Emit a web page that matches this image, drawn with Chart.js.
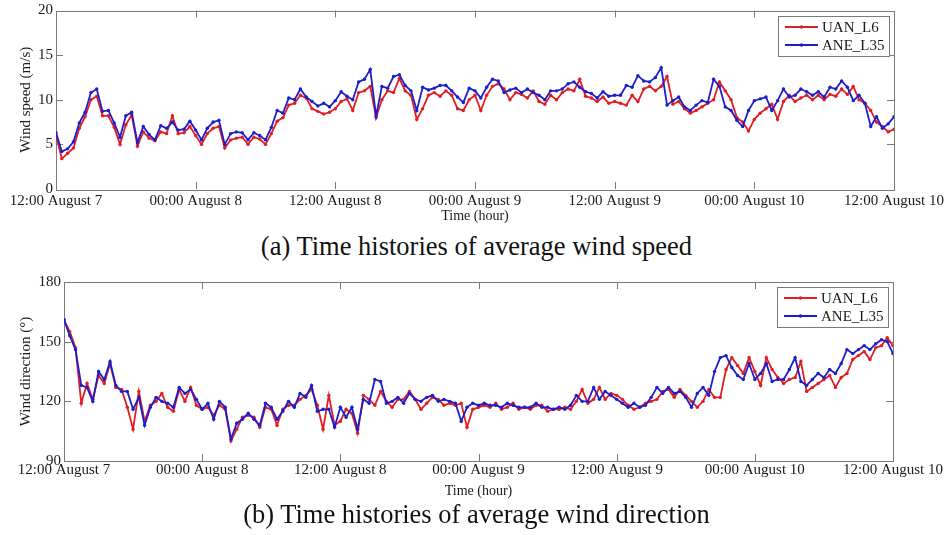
<!DOCTYPE html>
<html>
<head>
<meta charset="utf-8">
<script src="https://cdn.jsdelivr.net/npm/chart.js@4.4.0/dist/chart.umd.min.js"></script>
<style>
  body { margin: 0; background: #fff; }
  #page { position: relative; width: 949px; height: 535px; overflow: hidden; background: #fff; }
  .panel { position: absolute; left: 0; }
  .caption { position: absolute; left: 2px; width: 949px; text-align: center;
             font-family: "Liberation Serif", "Times New Roman", serif; font-size: 26.5px;
             line-height: 30px; color: #111; }
</style>
</head>
<body>
<div id="page">
  <div class="panel" style="top:0"><canvas id="speedChart" width="949" height="230"></canvas></div>
  <div class="caption" style="top:231px">(a) Time histories of average wind speed</div>
  <div class="panel" style="top:265px"><canvas id="dirChart" width="949" height="240"></canvas></div>
  <div class="caption" style="top:499px">(b) Time histories of average wind direction</div>
</div>
<script>
// tick labels every 12 hours, samples every half hour from 12:00 August 7
var timeTicks = ['12:00 August 7', '00:00 August 8', '12:00 August 8', '00:00 August 9',
                 '12:00 August 9', '00:00 August 10', '12:00 August 10'];
var stepHours = 0.5;
var seriesNames = ['UAN_L6', 'ANE_L35'];

// wind speed (m/s)
var speedUAN = [
  6.0, 3.4, 4.0, 4.6, 6.8, 8.1, 10.0, 10.4, 8.2, 8.2, 6.9, 5.0, 7.2, 8.3, 4.8, 6.4, 5.7, 5.4, 6.4, 6.2, 8.2, 6.2, 6.3, 7.0,
  6.0, 5.0, 6.2, 6.8, 7.0, 4.6, 5.5, 5.7, 5.8, 5.0, 5.8, 5.6, 5.0, 6.2, 7.6, 8.0, 9.4, 9.6, 10.5, 10.2, 9.0, 8.7, 8.4, 8.6,
  9.0, 9.8, 10.1, 8.8, 10.8, 11.0, 11.5, 8.0, 10.0, 11.0, 10.8, 12.4, 11.0, 10.5, 7.8, 9.0, 10.5, 10.8, 10.4, 11.0, 10.5, 9.0, 8.8, 10.0,
  10.5, 8.8, 10.5, 11.5, 11.8, 11.2, 10.0, 10.8, 10.6, 10.2, 11.0, 9.8, 9.5, 10.5, 10.0, 10.8, 11.2, 11.0, 12.3, 10.4, 10.2, 9.8, 10.3, 9.6,
  9.8, 9.6, 9.4, 10.5, 9.8, 11.2, 11.5, 11.0, 11.5, 12.6, 9.5, 9.8, 9.0, 8.5, 8.8, 9.2, 9.6, 10.0, 12.0, 11.0, 10.0, 8.0, 7.5, 6.5,
  7.8, 8.5, 9.0, 9.5, 7.8, 9.8, 10.5, 9.8, 10.2, 10.5, 10.0, 10.5, 10.0, 10.6, 10.4, 11.2, 10.6, 11.5, 10.0, 9.6, 8.8, 7.5, 7.0, 6.4, 6.7
];
var speedANE = [
  6.3, 4.2, 4.5, 5.3, 7.4, 8.6, 10.8, 11.2, 8.7, 8.8, 7.4, 5.8, 8.2, 8.6, 5.2, 7.0, 6.1, 5.5, 7.1, 6.8, 7.5, 6.6, 6.7, 7.6,
  6.6, 5.5, 6.8, 7.5, 7.7, 5.0, 6.2, 6.4, 6.3, 5.5, 6.3, 6.0, 5.5, 6.9, 8.8, 8.5, 10.2, 10.0, 11.2, 10.3, 9.8, 9.3, 9.6, 9.2,
  9.9, 10.9, 10.4, 10.0, 12.0, 12.3, 13.4, 8.2, 11.5, 11.3, 12.6, 12.8, 11.6, 11.0, 8.8, 11.4, 11.1, 11.3, 11.6, 11.6, 11.0, 10.3, 9.7, 11.3,
  11.0, 10.2, 11.4, 12.3, 12.1, 10.8, 11.1, 11.3, 10.8, 11.2, 10.8, 10.5, 10.0, 11.0, 11.0, 11.2, 11.8, 12.0, 11.4, 10.9, 10.7, 10.2, 10.9, 10.4,
  10.5, 10.5, 11.6, 11.4, 12.7, 12.1, 12.0, 12.5, 13.6, 9.4, 9.9, 10.3, 9.2, 8.8, 9.4, 9.9, 9.7, 12.3, 11.5, 9.2, 8.8, 7.7, 7.0, 8.8,
  9.9, 10.1, 10.3, 8.8, 9.9, 11.2, 10.3, 10.5, 11.2, 10.9, 10.5, 10.9, 10.3, 11.4, 11.2, 12.1, 11.4, 9.9, 10.5, 9.6, 7.0, 8.1, 6.8, 7.3, 8.1
];

// wind direction (degrees)
var dirUAN = [
  161, 155, 147, 119, 129, 121, 133, 129, 139, 127, 126, 117,
  106, 125, 110, 118, 120, 124, 117, 115, 126, 120, 127, 118,
  116, 117, 113, 118, 116, 100, 106, 112, 113, 112, 107, 117,
  116, 108, 116, 118, 118, 121, 123, 126, 118, 106, 123, 108,
  110, 116, 114, 104, 123, 121, 118, 125, 120, 117, 121, 121,
  125, 121, 116, 119, 122, 121, 118, 119, 118, 119, 107, 116,
  117, 118, 117, 119, 116, 117, 119, 116, 117, 116, 118, 118,
  115, 116, 116, 117, 116, 120, 126, 119, 121, 127, 121, 124,
  123, 121, 118, 116, 117, 119, 120, 121, 125, 126, 122, 126,
  123, 120, 117, 120, 126, 122, 122, 136, 142, 138, 134, 142,
  135, 128, 142, 136, 132, 129, 131, 132, 140, 125, 127, 129,
  131, 133, 127, 132, 134, 141, 143, 145, 141, 147, 148, 152,
  148
];
var dirANE = [
  161, 153, 146, 128, 127, 120, 135, 131, 140, 128, 125, 125,
  116, 122, 108, 117, 122, 120, 119, 117, 127, 124, 126, 121,
  116, 119, 111, 120, 117, 101, 109, 111, 114, 111, 108, 119,
  117, 111, 115, 120, 117, 124, 122, 128, 115, 116, 116, 107,
  117, 112, 117, 106, 121, 119, 131, 130, 119, 120, 122, 119,
  124, 121, 120, 122, 123, 120, 121, 120, 119, 110, 117, 119,
  118, 119, 118, 118, 117, 119, 118, 117, 117, 117, 119, 117,
  117, 116, 117, 116, 118, 123, 120, 120, 127, 121, 125, 123,
  121, 119, 117, 119, 117, 118, 122, 127, 124, 127, 124, 125,
  122, 117, 124, 127, 123, 135, 142, 143, 137, 133, 131, 139,
  131, 134, 139, 130, 131, 131, 136, 142, 130, 128, 131, 134,
  132, 136, 134, 139, 146, 144, 146, 148, 146, 149, 151, 150,
  144
];

var serif = '"Liberation Serif", "Times New Roman", serif';
var redColor = '#e11d24';
var blueColor = '#1d1dcc';

function toPoints(values) {
    return values.map(function (v, i) {
        return { x: i * stepHours, y: v };
    });
}

// box around the plot and inward MATLAB style ticks on all four sides
var framePlugin = {
    id: 'frame',
    beforeDatasetsDraw: function (chart) {
        var ctx = chart.ctx, a = chart.chartArea;
        var xs = chart.scales.x, ys = chart.scales.y;
        ctx.save();
        ctx.strokeStyle = '#7a7a7a';
        ctx.lineWidth = 1;
        ctx.strokeRect(Math.round(a.left) + 0.5, Math.round(a.top) + 0.5,
                       Math.round(a.right - a.left), Math.round(a.bottom - a.top));
        ctx.beginPath();
        xs.ticks.forEach(function (t) {
            var px = Math.round(xs.getPixelForValue(t.value)) + 0.5;
            if (px < a.left + 2 || px > a.right - 2) return;
            ctx.moveTo(px, a.bottom); ctx.lineTo(px, a.bottom - 7);
            ctx.moveTo(px, a.top); ctx.lineTo(px, a.top + 7);
        });
        ys.ticks.forEach(function (t) {
            var py = Math.round(ys.getPixelForValue(t.value)) + 0.5;
            if (py < a.top + 2 || py > a.bottom - 2) return;
            ctx.moveTo(a.left, py); ctx.lineTo(a.left + 7, py);
            ctx.moveTo(a.right, py); ctx.lineTo(a.right - 7, py);
        });
        ctx.stroke();
        ctx.restore();
    }
};

// legend box in the top right corner of the plot
var boxLegend = {
    id: 'boxLegend',
    afterDatasetsDraw: function (chart) {
        var ctx = chart.ctx, a = chart.chartArea;
        var w = 111, h = 40;
        var bx = Math.round(a.right - 5 - w), by = Math.round(a.top + 5);
        ctx.save();
        ctx.fillStyle = '#fff';
        ctx.fillRect(bx, by, w, h);
        ctx.strokeStyle = '#7a7a7a';
        ctx.lineWidth = 1;
        ctx.strokeRect(bx + 0.5, by + 0.5, w, h);
        ctx.font = '15px ' + serif;
        ctx.textBaseline = 'middle';
        chart.data.datasets.forEach(function (ds, i) {
            var ry = by + 11 + i * 18;
            ctx.strokeStyle = ds.borderColor;
            ctx.lineWidth = 2;
            ctx.beginPath();
            ctx.moveTo(bx + 7, ry); ctx.lineTo(bx + 40, ry);
            ctx.stroke();
            ctx.fillStyle = ds.borderColor;
            ctx.beginPath();
            ctx.arc(bx + 23.5, ry, 1.8, 0, Math.PI * 2);
            ctx.fill();
            ctx.fillStyle = '#1a1a1a';
            ctx.fillText(ds.label, bx + 44, ry + 1);
        });
        ctx.restore();
    }
};

function buildConfig(p) {
    return {
        type: 'line',
        data: {
            datasets: [
                { label: seriesNames[0], data: toPoints(p.red), borderColor: redColor,
                  pointBackgroundColor: redColor, order: 1 },
                { label: seriesNames[1], data: toPoints(p.blue), borderColor: blueColor,
                  pointBackgroundColor: blueColor, order: 0 }
            ]
        },
        options: {
            responsive: false,
            animation: false,
            events: [],
            layout: { padding: { left: 13, right: p.padRight, top: p.padTop, bottom: 5 } },
            elements: {
                line: { borderWidth: 1.8, tension: 0, fill: false },
                point: { radius: 1.7, borderWidth: 0 }
            },
            plugins: { legend: { display: false }, tooltip: { enabled: false } },
            scales: {
                x: {
                    type: 'linear', min: 0, max: 72,
                    border: { display: false },
                    grid: { display: false, drawTicks: false },
                    afterFit: function (s) { s.height = p.xHeight; },
                    ticks: {
                        stepSize: 12, autoSkip: false, maxRotation: 0, padding: p.xPad,
                        color: '#1a1a1a', font: { family: serif, size: 15, lineHeight: 1 },
                        callback: function (v) { return timeTicks[v / 12]; }
                    },
                    title: {
                        display: true, text: 'Time (hour)', color: '#1a1a1a',
                        font: { family: serif, size: 14 }, padding: { top: 0, bottom: 0 }
                    }
                },
                y: {
                    min: p.yMin, max: p.yMax,
                    border: { display: false },
                    grid: { display: false, drawTicks: false },
                    afterFit: function (s) { s.width = p.yWidth; },
                    ticks: {
                        stepSize: p.yStep, padding: 3, color: '#1a1a1a',
                        font: { family: serif, size: 15, lineHeight: 1 }
                    },
                    title: {
                        display: true, text: p.yTitle, color: '#1a1a1a',
                        font: { family: serif, size: 15 }, padding: { top: 4, bottom: 0 }
                    }
                }
            }
        },
        plugins: [framePlugin, boxLegend]
    };
}

new Chart(document.getElementById('speedChart').getContext('2d'), buildConfig({
    red: speedUAN, blue: speedANE, yMin: 0, yMax: 20, yStep: 5, yTitle: 'Wind speed (m/s)',
    padRight: 53, padTop: 8, yWidth: 43, xHeight: 36, xPad: 5
}));

new Chart(document.getElementById('dirChart').getContext('2d'), buildConfig({
    red: dirUAN, blue: dirANE, yMin: 90, yMax: 180, yStep: 30, yTitle: 'Wind direction (°)',
    padRight: 56, padTop: 17, yWidth: 51, xHeight: 39, xPad: 2
}));
</script>
</body>
</html>
